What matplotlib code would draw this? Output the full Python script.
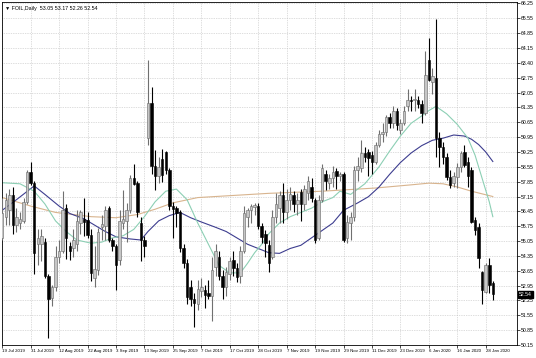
import numpy as np
import matplotlib
matplotlib.use('Agg')
from matplotlib import pyplot as plt
from matplotlib import transforms

# daily candles, one per bar (19 Jul 2019 .. 30 Jan 2020)
opens = [55.20, 56.20, 56.50, 57.20, 55.80, 55.90, 56.00, 56.90, 58.30, 57.80,
         54.90, 54.90, 55.00, 53.40, 52.35, 52.90, 54.30, 54.60, 56.60, 54.80,
         54.70, 54.90, 55.90, 56.10, 56.05, 55.35, 53.30, 53.70, 55.70, 55.75,
         56.60, 55.10, 54.80, 54.15, 55.90, 56.00, 56.50, 58.00, 57.80, 55.90,
         55.10, 59.90, 61.55, 58.60, 58.10, 58.90, 59.25, 58.40, 56.70, 56.60,
         56.40, 54.70, 54.00, 52.90, 52.30, 52.10, 52.70, 52.75, 52.60, 52.45,
         53.85, 54.30, 53.40, 52.90, 53.50, 54.15, 53.80, 53.40, 54.60, 56.20,
         56.50, 56.65, 56.70, 55.75, 55.40, 54.87, 54.30, 56.20, 56.60, 57.20,
         56.40, 57.00, 57.20, 56.80, 57.35, 56.80, 57.30, 57.60, 57.00, 55.20,
         57.00, 58.20, 57.80, 58.00, 58.35, 58.10, 58.20, 55.20, 55.90, 56.20,
         58.40, 58.50, 59.20, 59.25, 59.10, 58.80, 59.60, 60.10, 60.20, 60.90,
         60.60, 61.20, 60.30, 60.60, 61.40, 61.70, 61.70, 61.70, 61.50, 61.10,
         63.60, 62.55, 62.75, 59.90, 59.50, 59.03, 58.09, 57.80, 58.09, 58.55,
         59.25, 58.80, 58.40, 56.05, 55.73, 53.61, 52.67, 53.92, 53.05]
highs = [57.10, 57.30, 57.50, 57.60, 56.60, 56.40, 57.10, 58.40, 58.80, 57.90,
         55.60, 55.60, 55.20, 53.50, 53.00, 54.80, 55.10, 57.40, 56.80, 55.00,
         55.60, 56.50, 56.50, 57.10, 56.40, 55.60, 54.80, 55.65, 56.30, 56.70,
         56.70, 55.20, 54.90, 56.50, 57.45, 56.85, 58.15, 58.70, 57.90, 56.20,
         55.30, 63.60, 62.30, 59.35, 59.00, 59.40, 59.30, 58.50, 56.90, 56.70,
         56.50, 54.90, 54.20, 53.20, 52.60, 53.20, 53.30, 53.00, 53.20, 54.30,
         54.90, 54.60, 53.70, 53.85, 54.30, 54.60, 54.00, 54.80, 56.70, 56.60,
         56.80, 56.85, 56.85, 55.90, 55.57, 55.10, 56.50, 57.30, 57.40, 57.80,
         57.50, 57.60, 57.40, 57.30, 57.50, 57.70, 58.10, 58.00, 57.10, 57.20,
         58.70, 58.40, 58.20, 58.60, 58.50, 58.30, 58.30, 56.30, 56.40, 58.60,
         59.00, 59.80, 59.50, 59.40, 59.30, 59.70, 60.30, 60.60, 61.00, 61.10,
         61.40, 61.30, 60.80, 61.40, 62.20, 61.90, 62.20, 61.90, 61.70, 64.00,
         64.60, 63.20, 65.50, 60.20, 59.74, 59.19, 58.40, 58.30, 58.72, 59.30,
         59.60, 59.00, 58.56, 56.20, 55.90, 53.65, 54.00, 54.24, 53.17]
lows = [55.10, 55.80, 55.80, 55.40, 55.50, 55.60, 55.90, 56.80, 57.70, 53.50,
        53.90, 54.10, 53.30, 50.50, 52.00, 52.70, 54.00, 54.50, 54.20, 54.15,
        54.30, 54.60, 55.40, 55.30, 55.20, 53.15, 52.90, 53.45, 55.10, 55.10,
        55.00, 54.60, 52.75, 53.90, 55.60, 55.00, 56.35, 57.70, 56.20, 54.10,
        54.30, 59.60, 58.20, 57.45, 57.80, 57.85, 58.20, 56.50, 55.20, 55.70,
        54.55, 53.80, 52.10, 52.00, 51.00, 51.80, 52.40, 51.90, 52.30, 51.30,
        53.40, 53.20, 52.30, 52.45, 53.20, 53.40, 53.10, 53.05, 54.50, 55.70,
        55.90, 56.30, 55.60, 54.95, 54.30, 53.60, 54.20, 55.90, 55.90, 55.90,
        56.10, 56.50, 56.40, 56.30, 56.00, 56.50, 57.00, 56.90, 54.95, 55.10,
        56.90, 57.45, 57.50, 57.60, 57.50, 57.90, 55.00, 54.95, 55.10, 56.00,
        57.90, 58.30, 58.80, 58.10, 58.20, 58.70, 59.50, 59.70, 60.00, 60.40,
        60.40, 60.30, 60.10, 60.50, 61.20, 61.20, 61.20, 61.30, 60.60, 61.00,
        62.60, 62.00, 59.00, 58.56, 58.70, 57.93, 57.54, 57.60, 57.54, 58.30,
        58.55, 57.60, 55.89, 55.34, 53.77, 52.10, 52.60, 52.60, 52.26]
closes = [56.35, 57.00, 57.20, 55.80, 56.20, 56.10, 56.90, 58.30, 57.80, 54.50,
          55.20, 55.30, 53.40, 52.30, 52.90, 54.30, 54.60, 56.50, 55.20, 54.60,
          55.10, 56.00, 56.40, 55.95, 55.35, 53.55, 53.75, 55.50, 55.85, 56.50,
          55.10, 54.80, 53.90, 56.00, 56.10, 56.50, 58.00, 57.75, 56.40, 55.10,
          54.80, 61.55, 58.60, 58.10, 58.55, 58.15, 58.40, 56.70, 56.55, 56.35,
          54.70, 54.00, 52.40, 52.30, 52.15, 52.80, 52.90, 52.50, 52.45, 53.70,
          54.60, 53.40, 52.90, 53.60, 54.10, 53.80, 53.35, 54.60, 56.35, 56.50,
          56.70, 56.75, 55.75, 55.25, 54.95, 54.00, 56.20, 56.80, 57.20, 56.40,
          57.00, 57.25, 56.80, 57.00, 56.80, 57.50, 57.90, 57.10, 55.10, 57.00,
          58.50, 57.90, 58.00, 58.30, 58.10, 58.20, 55.10, 55.95, 56.20, 58.40,
          58.60, 59.20, 59.00, 58.95, 58.80, 59.60, 60.10, 60.20, 60.90, 60.60,
          61.20, 60.50, 60.60, 61.20, 61.70, 61.65, 61.75, 61.50, 61.10, 62.90,
          62.65, 62.85, 59.90, 59.50, 59.03, 58.09, 57.70, 58.10, 58.56, 59.20,
          58.65, 58.10, 55.97, 55.57, 54.24, 52.74, 53.92, 52.98, 52.54]

# moving averages (bar index, value)
fastBars = [0, 5, 9, 12, 15, 18, 21, 25, 28, 31, 34, 37, 40, 43, 46, 49, 52, 55, 58,
            61, 64, 67, 69, 71, 73, 75, 78, 81, 84, 87, 90, 93, 95, 98, 102, 106,
            109, 112, 115, 118, 120, 122, 125, 128, 131, 133, 135, 137, 138]
fastVals = [57.80, 57.75, 57.40, 56.80, 56.00, 55.50, 55.10, 54.95, 55.00, 55.20,
            55.30, 55.60, 56.20, 56.90, 57.40, 57.50, 57.00, 55.90, 54.90, 53.90,
            53.55, 53.55, 54.00, 54.50, 54.90, 55.40, 55.90, 56.20, 56.40, 56.60,
            56.90, 57.10, 57.40, 57.25, 57.75, 58.55, 59.30, 60.00, 60.60, 60.95,
            61.20, 61.40, 61.05, 60.55, 59.90, 59.10, 58.00, 56.90, 56.20]
midBars = [0, 4, 9, 12, 16, 19, 23, 26, 29, 32, 36, 39, 41, 44, 47, 50, 53, 56, 60,
           63, 66, 69, 72, 75, 78, 81, 84, 87, 90, 93, 96, 100, 103, 106, 109, 112,
           115, 118, 121, 124, 127, 130, 132, 134, 136, 138]
midVals = [56.50, 57.00, 57.65, 57.25, 56.70, 56.35, 56.10, 55.80, 55.50, 55.25,
           55.15, 55.10, 55.50, 56.00, 56.25, 56.40, 56.15, 55.95, 55.70, 55.50,
           55.20, 54.90, 54.70, 54.50, 54.47, 54.70, 54.85, 55.20, 55.55, 55.90,
           56.50, 56.85, 57.14, 57.60, 58.20, 58.75, 59.20, 59.55, 59.80, 59.90,
           60.05, 60.00, 59.85, 59.60, 59.25, 58.80]
slowBars = [0, 8, 15, 25, 32, 38, 43, 48, 55, 65, 75, 90, 105, 115, 120, 124, 128,
            132, 138]
slowVals = [57.10, 56.70, 56.40, 56.20, 56.15, 56.30, 56.55, 56.85, 57.10, 57.20,
            57.30, 57.40, 57.55, 57.70, 57.78, 57.75, 57.60, 57.40, 57.15]

dateBars = [0, 8, 16, 24, 32, 40, 48, 56, 64, 72, 80, 88, 96, 104, 112, 120, 128, 136]
dateLabels = ['19 Jul 2019', '31 Jul 2019', '12 Aug 2019', '22 Aug 2019', '3 Sep 2019',
              '13 Sep 2019', '25 Sep 2019', '7 Oct 2019', '17 Oct 2019', '28 Oct 2019',
              '7 Nov 2019', '19 Nov 2019', '29 Nov 2019', '11 Dec 2019', '23 Dec 2019',
              '6 Jan 2020', '16 Jan 2020', '28 Jan 2020']
priceLabels = ['66.25', '65.55', '64.85', '64.15', '63.40', '62.75', '62.05', '61.35',
               '60.65', '59.95', '59.25', '58.55', '57.85', '57.15', '56.45', '55.75',
               '55.05', '54.35', '53.65', '52.95', '52.25', '51.55', '50.85', '50.15']
headerText = '\u25bc FOIL,Daily  53.05 53.17 52.26 52.54'
lastPrice = 52.54

plt.rcParams['font.family'] = ['Liberation Sans', 'DejaVu Sans']

fig = plt.figure(figsize=(5.36, 3.58), dpi=100)
ax = fig.add_axes([2 / 536., 13 / 358., 515 / 536., 343 / 358.])

o = np.array(opens)
h = np.array(highs)
l = np.array(lows)
c = np.array(closes)
bars = np.arange(len(c))
up = c >= o

bodyLow = np.minimum(o, c)
bodyHeight = np.maximum(np.abs(c - o), 0.04)

ax.vlines(bars[up], l[up], h[up], color='#707070', lw=0.8, zorder=3)
ax.vlines(bars[~up], l[~up], h[~up], color='black', lw=0.8, zorder=3)
ax.bar(bars[up], bodyHeight[up], bottom=bodyLow[up], width=0.7, color='#c6c6c6',
       edgecolor='#666666', linewidth=0.4, zorder=4)
ax.bar(bars[~up], bodyHeight[~up], bottom=bodyLow[~up], width=0.7, color='black',
       edgecolor='black', linewidth=0.4, zorder=4)

ax.plot(slowBars, slowVals, color='#d8b48e', lw=0.8, zorder=2)
ax.plot(midBars, midVals, color='#3d3d8f', lw=0.8, zorder=2)
ax.plot(fastBars, fastVals, color='#8ccfb4', lw=0.8, zorder=2)

priceTicks = [66.25 - 0.70 * k for k in range(len(priceLabels))]
ax.set_ylim(50.15, 66.32)
ax.set_xlim(-0.06, 144.8)

ax.yaxis.tick_right()
ax.set_yticks(priceTicks)
ax.set_yticklabels(priceLabels)
ax.set_xticks(dateBars)
ax.set_xticklabels(dateLabels, ha='left')
ax.tick_params(axis='y', length=2, width=0.5, pad=1, labelsize=3.7, colors='black')
ax.tick_params(axis='x', length=2, width=0.5, pad=1, labelsize=3.2, colors='black')

ax.grid(True, color='#bdbdbd', linestyle=(0, (1, 1.5)), lw=0.5, zorder=0)
for side in ['left', 'right', 'top', 'bottom']:
    ax.spines[side].set_linewidth(0.6)
    ax.spines[side].set_color('black')

# bid price tag on the right axis
trans = transforms.blended_transform_factory(ax.transAxes, ax.transData)
ax.text(1.004, lastPrice, '%.2f' % lastPrice, transform=trans, fontsize=3.7,
        color='white', va='center', ha='left',
        bbox=dict(boxstyle='square,pad=0.15', fc='black', ec='black'), clip_on=False)

ax.text(0.006, 0.988, headerText, transform=ax.transAxes, fontsize=3.8,
        va='top', ha='left', color='black')

fig.savefig('out.png', dpi=100)
